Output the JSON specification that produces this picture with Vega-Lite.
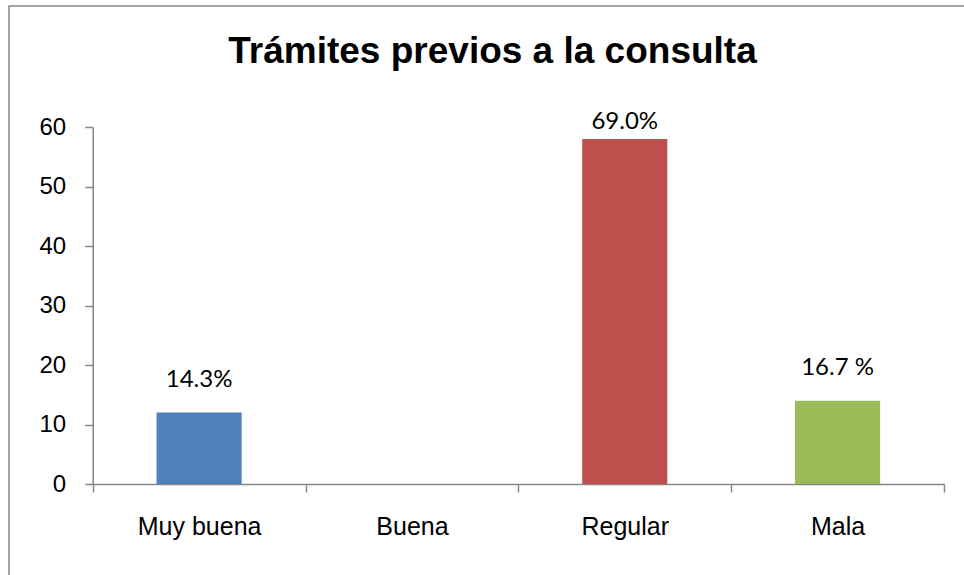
{
  "$schema": "https://vega.github.io/schema/vega-lite/v6.json",
  "autosize": {"type": "none"},
  "padding": {"left": 9, "top": 6, "right": 0, "bottom": 0},
  "width": 957,
  "height": 571,
  "background": "white",
  "title": {
    "text": "Trámites previos a la consulta",
    "font": "Liberation Sans",
    "fontSize": 37,
    "fontWeight": "bold",
    "color": "black",
    "anchor": "middle",
    "frame": "group",
    "baseline": "alphabetic",
    "offset": -94,
    "dx": 5
  },
  "data": {
    "values": [
      {"categoria": "Muy buena", "valor": 12, "etiqueta": "14.3%"},
      {"categoria": "Buena", "valor": 0, "etiqueta": ""},
      {"categoria": "Regular", "valor": 58, "etiqueta": "69.0%"},
      {"categoria": "Mala", "valor": 14, "etiqueta": "16.7 %"}
    ]
  },
  "encoding": {
    "x": {
      "field": "categoria",
      "type": "nominal",
      "sort": ["Muy buena", "Buena", "Regular", "Mala"],
      "scale": {"range": [83.7, 935], "paddingInner": 0, "paddingOuter": 0},
      "axis": {
        "orient": "bottom",
        "offset": -93,
        "title": null,
        "labelAngle": 0,
        "tickBand": "extent",
        "tickSize": 8,
        "tickWidth": 1.5,
        "tickColor": "#868686",
        "domainColor": "#868686",
        "domainWidth": 1.5,
        "labelFont": "Liberation Sans",
        "labelFontSize": 25,
        "labelColor": "black",
        "labelBaseline": "alphabetic",
        "labelPadding": 42,
        "grid": false
      }
    },
    "y": {
      "field": "valor",
      "type": "quantitative",
      "scale": {"domain": [0, 60], "range": [478, 121], "nice": false, "zero": true},
      "axis": {
        "orient": "left",
        "offset": -83.7,
        "title": null,
        "values": [0, 10, 20, 30, 40, 50, 60],
        "tickSize": 8,
        "tickWidth": 1.5,
        "tickColor": "#868686",
        "domainColor": "#868686",
        "domainWidth": 1.5,
        "labelFont": "Liberation Sans",
        "labelFontSize": 24,
        "labelColor": "black",
        "labelPadding": 19,
        "grid": false
      }
    }
  },
  "layer": [
    {
      "mark": {"type": "bar", "width": {"band": 0.4}},
      "encoding": {
        "color": {
          "field": "categoria",
          "type": "nominal",
          "scale": {
            "domain": ["Muy buena", "Buena", "Regular", "Mala"],
            "range": ["#4F81BD", "#8064A2", "#C0504D", "#9BBB59"]
          },
          "legend": null
        }
      }
    },
    {
      "transform": [{"filter": "datum.categoria != 'Regular'"}],
      "mark": {"type": "text", "font": "Lato", "fontSize": 24, "color": "black", "baseline": "alphabetic", "dy": -26},
      "encoding": {"text": {"field": "etiqueta"}}
    },
    {
      "transform": [{"filter": "datum.categoria == 'Regular'"}],
      "mark": {"type": "text", "font": "Lato", "fontSize": 24, "color": "black", "baseline": "alphabetic", "dy": -10},
      "encoding": {"text": {"field": "etiqueta"}}
    }
  ],
  "config": {
    "view": {"stroke": "#868686", "strokeWidth": 1.5}
  }
}
